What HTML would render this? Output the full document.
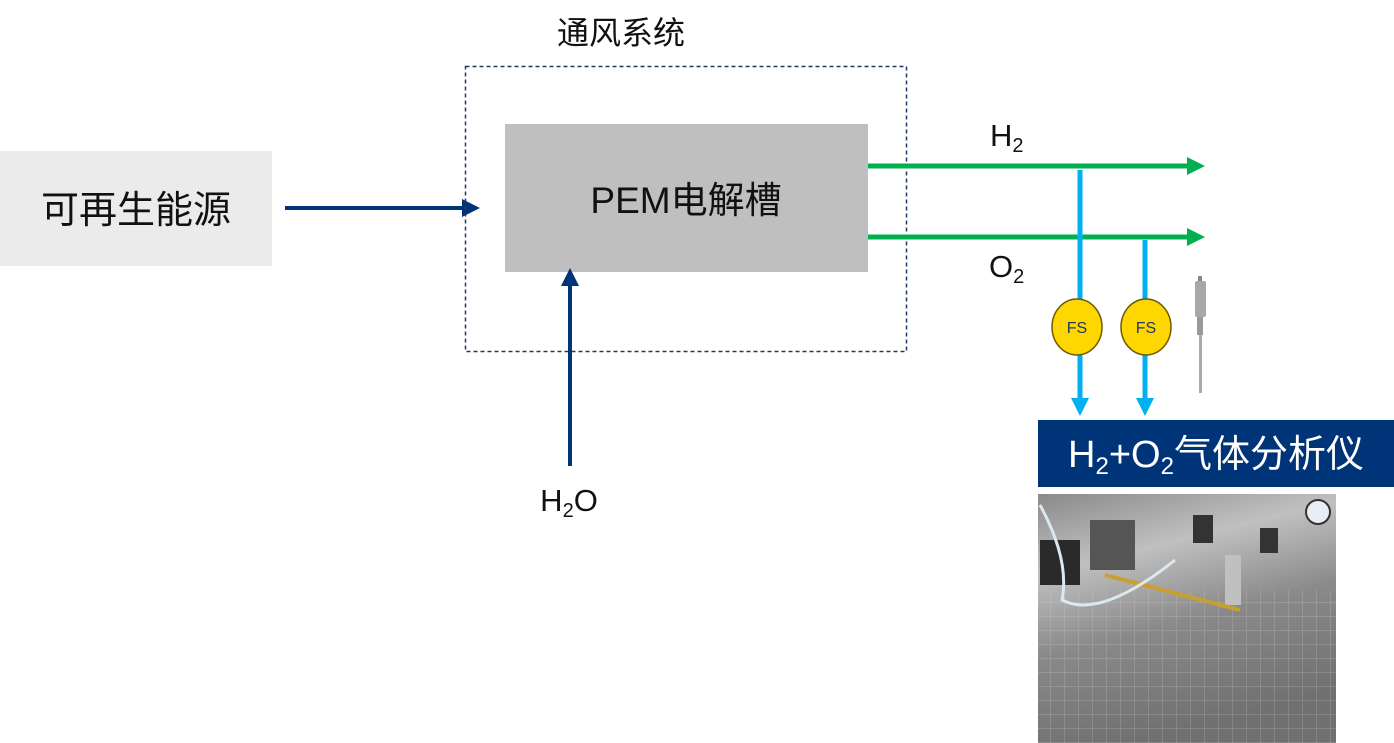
<!DOCTYPE html>
<html><head><meta charset="utf-8"><style>
html,body{margin:0;padding:0;background:#fff;}
svg{display:block;}
text{font-family:"Liberation Sans","Noto Sans CJK SC",sans-serif;}
</style></head><body>
<svg width="1394" height="743" viewBox="0 0 1394 743" xmlns="http://www.w3.org/2000/svg">
<defs>
<linearGradient id="ph" x1="0" y1="0" x2="0.3" y2="1">
<stop offset="0" stop-color="#8a8a8a"/><stop offset="0.3" stop-color="#c0c0c0"/><stop offset="0.6" stop-color="#8a8a8a"/><stop offset="1" stop-color="#707070"/>
</linearGradient>
<pattern id="grid" width="14" height="14" patternUnits="userSpaceOnUse"><path d="M0 0H14M0 0V14" stroke="#d8d8d8" stroke-width="1" opacity="0.4" fill="none"/></pattern>
</defs>
<rect x="0" y="151" width="272" height="115" fill="#ebebeb"/>
<text x="136" y="223" font-size="38" text-anchor="middle" fill="#111">可再生能源</text>
<line x1="285" y1="208" x2="464" y2="208" stroke="#003478" stroke-width="4"/>
<polygon points="480,208 462,199 462,217" fill="#003478"/>
<rect x="465.5" y="66.5" width="441" height="285" fill="none" stroke="#1f3864" stroke-width="1.5" stroke-dasharray="4,3"/>
<text x="621" y="44" font-size="32" text-anchor="middle" fill="#111">通风系统</text>
<rect x="505" y="124" width="363" height="148" fill="#bfbfbf"/>
<text x="686" y="213" font-size="37" text-anchor="middle" fill="#111">PEM电解槽</text>
<line x1="570" y1="466" x2="570" y2="284" stroke="#003478" stroke-width="4"/>
<polygon points="570,268 561,286 579,286" fill="#003478"/>
<text x="569" y="511" font-size="31" text-anchor="middle" fill="#111">H<tspan font-size="20" dy="6">2</tspan><tspan dy="-6">O</tspan></text>
<line x1="868" y1="166" x2="1190" y2="166" stroke="#00b050" stroke-width="5"/>
<polygon points="1205,166 1187,157 1187,175" fill="#00b050"/>
<line x1="868" y1="237" x2="1190" y2="237" stroke="#00b050" stroke-width="5"/>
<polygon points="1205,237 1187,228 1187,246" fill="#00b050"/>
<text x="990" y="146" font-size="31" fill="#111">H<tspan font-size="20" dy="6">2</tspan></text>
<text x="989" y="277" font-size="31" fill="#111">O<tspan font-size="20" dy="6">2</tspan></text>
<line x1="1080" y1="170" x2="1080" y2="402" stroke="#00b0f0" stroke-width="5"/>
<polygon points="1080,416 1071,398 1089,398" fill="#00b0f0"/>
<line x1="1145" y1="240" x2="1145" y2="402" stroke="#00b0f0" stroke-width="5"/>
<polygon points="1145,416 1136,398 1154,398" fill="#00b0f0"/>
<ellipse cx="1077" cy="327" rx="25" ry="28" fill="#ffd700" stroke="#6b5a00" stroke-width="1.5"/>
<ellipse cx="1146" cy="327" rx="25" ry="28" fill="#ffd700" stroke="#6b5a00" stroke-width="1.5"/>
<text x="1077" y="333" font-size="16" text-anchor="middle" fill="#1f3864">FS</text>
<text x="1146" y="333" font-size="16" text-anchor="middle" fill="#1f3864">FS</text>
<rect x="1198" y="276" width="4" height="5" fill="#888"/>
<rect x="1195" y="281" width="11" height="36" rx="2" fill="#a8a8a8"/>
<rect x="1197" y="317" width="6" height="18" fill="#999"/>
<rect x="1199" y="335" width="3" height="58" fill="#aaa"/>
<rect x="1038" y="420" width="356" height="67" fill="#003478"/>
<text x="1216" y="467" font-size="38" text-anchor="middle" fill="#fff">H<tspan font-size="24" dy="7">2</tspan><tspan dy="-7">+O</tspan><tspan font-size="24" dy="7">2</tspan><tspan dy="-7">气体分析仪</tspan></text>
<rect x="1038" y="494" width="298" height="249" fill="url(#ph)"/>
<rect x="1038" y="590" width="298" height="153" fill="url(#grid)"/>
<rect x="1040" y="540" width="40" height="45" fill="#2a2a2a"/>
<rect x="1090" y="520" width="45" height="50" fill="#555"/>
<rect x="1193" y="515" width="20" height="28" fill="#333"/>
<rect x="1260" y="528" width="18" height="25" fill="#333"/>
<rect x="1225" y="555" width="16" height="50" fill="#c0c0c0"/>
<line x1="1105" y1="575" x2="1240" y2="610" stroke="#c9a030" stroke-width="4"/>
<circle cx="1318" cy="512" r="12" fill="#e8eef5" stroke="#333" stroke-width="2"/>
<path d="M1040 505 Q1070 560 1062 600 Q1100 620 1175 560" fill="none" stroke="#dce8f0" stroke-width="3"/>
</svg>
</body></html>
